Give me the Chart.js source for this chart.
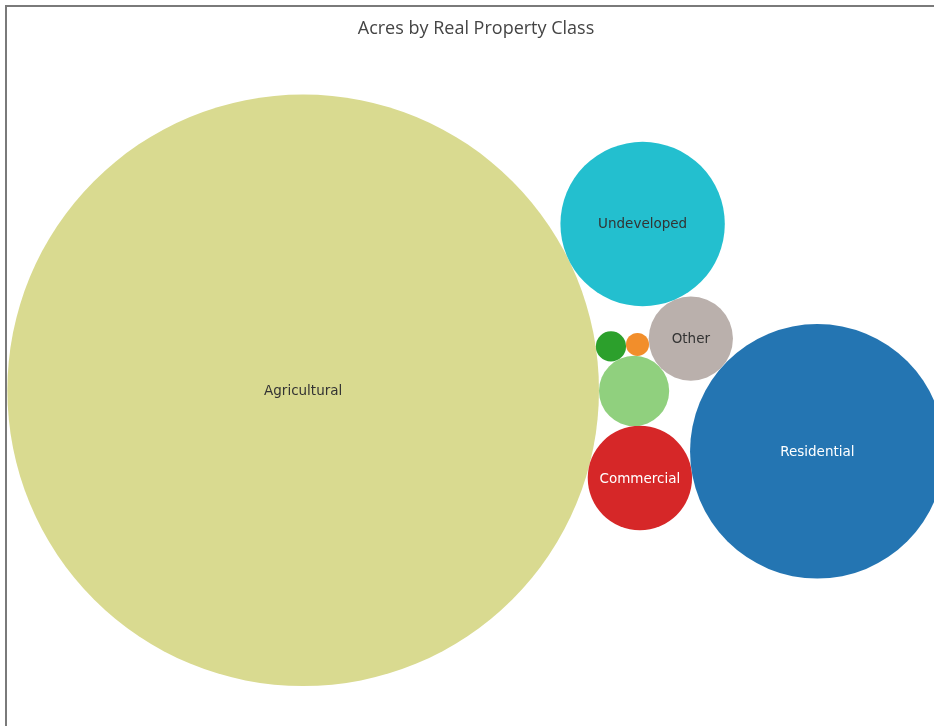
<!DOCTYPE html>
<html>
<head>
<meta charset="utf-8">
<script src="https://cdn.jsdelivr.net/npm/chart.js@4"></script>
<style>
  html, body { margin: 0; padding: 0; background: #fff; overflow: hidden; }
  #frame {
    position: absolute; left: 5px; top: 5px; width: 1000px; height: 800px;
    border-left: 2px solid #7a7a7a; border-top: 2px solid #7a7a7a;
  }
  #wrap { position: absolute; left: 5px; top: 7px; width: 942px; height: 719px; }
</style>
</head>
<body>
<div id="frame"></div>
<div id="wrap"><canvas id="bubbles"></canvas></div>
<script>
// acres by class
const categories = ['Agricultural', 'Commercial', 'Community Services', 'Industrial',
                    'Recreation & Entertainment', 'Other', 'Undeveloped', 'Residential'];
const acres = [250000, 7770, 3520, 650, 380, 5070, 19300, 46300];
const colors = ['#d9da90', '#d62728', '#90d07e', '#2ca02c', '#f28e2b', '#bab0ac', '#23bfcf', '#2475b2'];

// packing order: each circle touches one or two circles placed before it
const packing = [
  { touch: [] },
  { touch: [0], angle: 14.6 },
  { touch: [0, 1], side: -1 },
  { touch: [0, 2], side: -1 },
  { touch: [3, 2], side: -1 },
  { touch: [2, 4], side: 1 },
  { touch: [0, 5], side: -1 },
  { touch: [5, 1], side: -1 }
];

function packCircles() {
  const pts = [];
  packing.forEach((p, i) => {
    const r = Math.sqrt(acres[i]);
    if (p.touch.length === 0) {
      pts.push({ x: 0, y: 0, r: r });
    } else if (p.touch.length === 1) {
      const a = pts[p.touch[0]];
      const t = p.angle * Math.PI / 180;
      pts.push({ x: a.x + (a.r + r) * Math.cos(t), y: a.y + (a.r + r) * Math.sin(t), r: r });
    } else {
      const a = pts[p.touch[0]], b = pts[p.touch[1]];
      const da = a.r + r, db = b.r + r;
      const dx = b.x - a.x, dy = b.y - a.y;
      const d = Math.sqrt(dx * dx + dy * dy);
      const ux = dx / d, uy = dy / d;
      const along = (da * da - db * db + d * d) / (2 * d);
      const h = Math.sqrt(Math.max(0, da * da - along * along));
      pts.push({
        x: a.x + along * ux - p.side * h * uy,
        y: a.y + along * uy + p.side * h * ux,
        r: r
      });
    }
  });
  return pts;
}

const packed = packCircles();
const minX = Math.min(...packed.map(c => c.x - c.r));
const maxX = Math.max(...packed.map(c => c.x + c.r));
const minY = Math.min(...packed.map(c => c.y - c.r));
const maxY = Math.max(...packed.map(c => c.y + c.r));
const cx = (minX + maxX) / 2, cy = (minY + maxY) / 2;
const spanX = (maxX - minX) / 0.995;

function unitPx(chart) {
  const s = chart.scales.x;
  return s.getPixelForValue(1) - s.getPixelForValue(0);
}

function textColor(hex) {
  const n = parseInt(hex.slice(1), 16);
  const lum = 0.299 * (n >> 16) + 0.587 * ((n >> 8) & 255) + 0.114 * (n & 255);
  return lum < 120 ? '#ffffff' : '#333333';
}

const bubbleLabels = {
  id: 'bubbleLabels',
  afterDatasetsDraw(chart) {
    const ctx = chart.ctx;
    const meta = chart.getDatasetMeta(0);
    ctx.save();
    ctx.font = '13.5px "DejaVu Sans", sans-serif';
    ctx.textAlign = 'center';
    ctx.textBaseline = 'middle';
    meta.data.forEach((el, i) => {
      const r = el.options.radius;
      if (!(r > 0)) return;
      const w = ctx.measureText(categories[i]).width;
      if (w > r * 2 * 0.85) return;
      ctx.fillStyle = textColor(colors[i]);
      ctx.fillText(categories[i], el.x, el.y + 1);
    });
    ctx.restore();
  }
};

document.addEventListener('DOMContentLoaded', function() {
  const ctx = document.getElementById('bubbles').getContext('2d');
  const chart = new Chart(ctx, {
    type: 'bubble',
    data: {
      datasets: [{
        label: 'Acres',
        data: packed.map((c, i) => ({ x: c.x, y: c.y, r: 0 })),
        backgroundColor: colors,
        borderWidth: 0,
        hoverBorderWidth: 0,
        clip: false
      }]
    },
    options: {
      responsive: true,
      maintainAspectRatio: false,
      animation: false,
      layout: { padding: 0, autoPadding: false },
      scales: {
        x: { type: 'linear', display: false, min: cx - spanX / 2, max: cx + spanX / 2 },
        y: { type: 'linear', display: false, reverse: true, min: cy - spanX / 2, max: cy + spanX / 2 }
      },
      plugins: {
        legend: { display: false },
        title: {
          display: true,
          text: 'Acres by Real Property Class',
          color: '#444',
          font: { family: '"Open Sans", sans-serif', size: 18, weight: 'normal' },
          padding: { top: 11, bottom: 15 }
        },
        tooltip: {
          callbacks: {
            label: function(item) {
              return categories[item.dataIndex] + ': ' + acres[item.dataIndex].toLocaleString() + ' acres';
            }
          }
        }
      }
    },
    plugins: [bubbleLabels]
  });

  // same units per pixel on both axes, then size bubbles by area through the x scale
  const area = chart.chartArea;
  const spanY = spanX * (area.bottom - area.top) / (area.right - area.left);
  chart.options.scales.y.min = cy - spanY / 2;
  chart.options.scales.y.max = cy + spanY / 2;
  const px = unitPx(chart);
  chart.data.datasets[0].data.forEach((d, i) => { d.r = Math.sqrt(acres[i]) * px; });
  chart.update('none');
});
</script>
</body>
</html>
